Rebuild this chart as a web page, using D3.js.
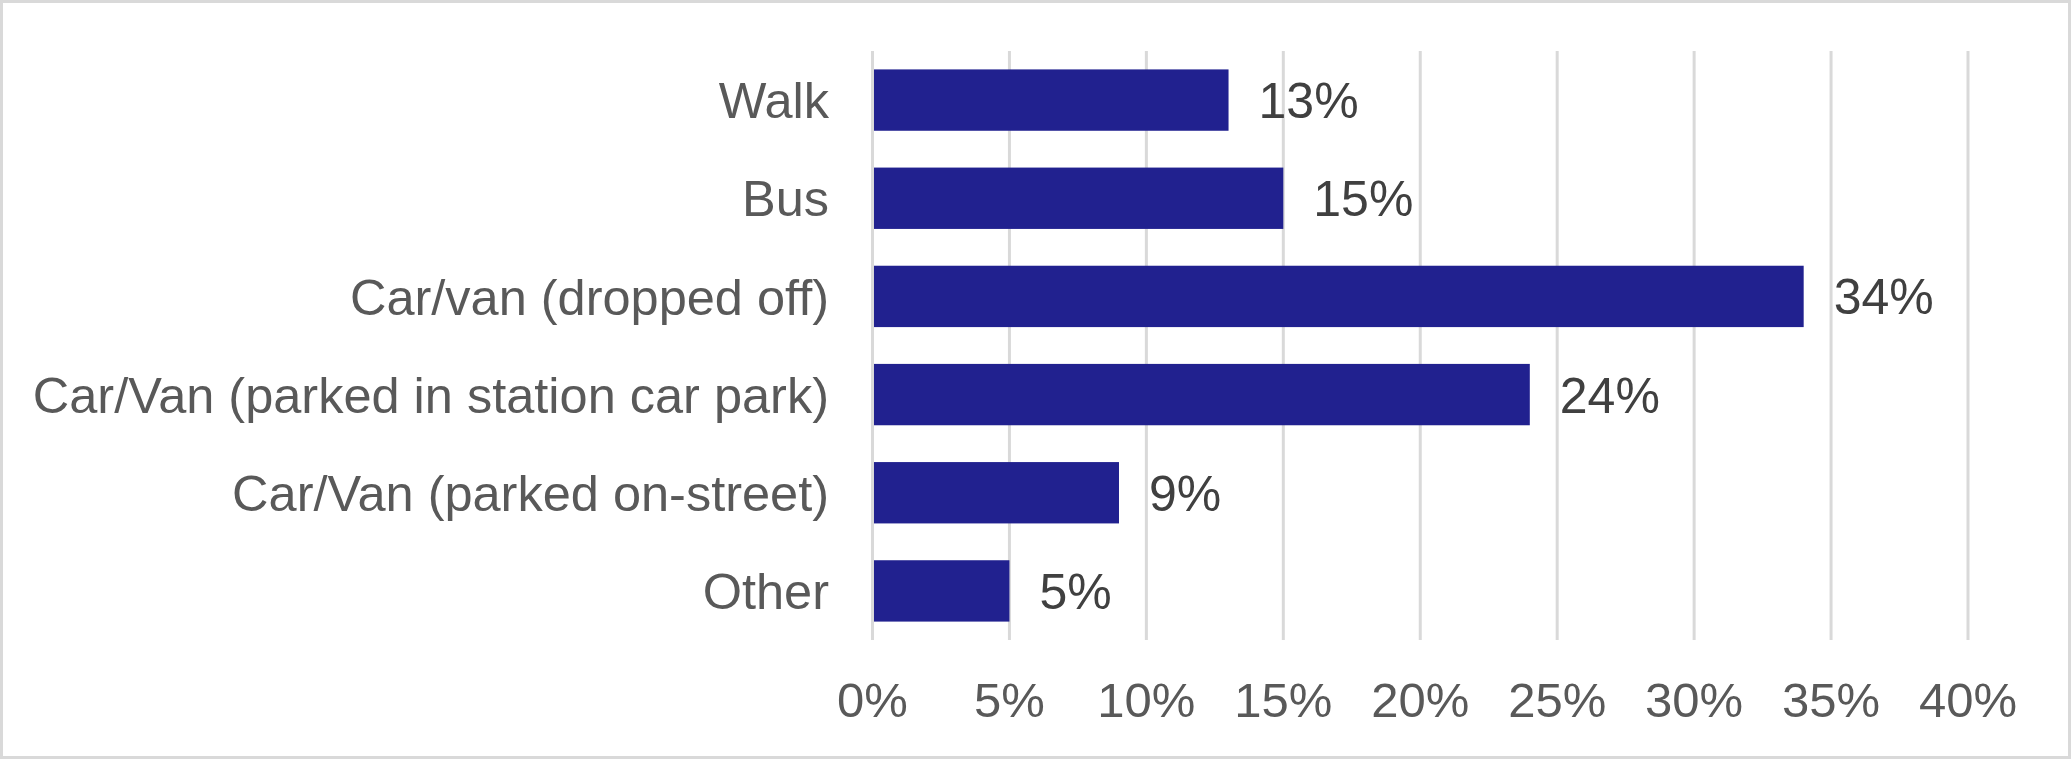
<!DOCTYPE html>
<html>
<head>
<meta charset="utf-8">
<script src="https://cdn.jsdelivr.net/npm/d3@7"></script>
<style>
  html, body { margin: 0; padding: 0; background: #fff; }
  svg { display: block; }
  text { font-family: "Liberation Sans", Arial, sans-serif; }
</style>
</head>
<body>
<svg id="chart" width="2071" height="759"></svg>
<script>
const categories = [
  "Walk",
  "Bus",
  "Car/van (dropped off)",
  "Car/Van (parked in station car park)",
  "Car/Van (parked on-street)",
  "Other"
];
const values = [0.13, 0.15, 0.34, 0.24, 0.09, 0.05];
const tickValues = [0, 0.05, 0.10, 0.15, 0.20, 0.25, 0.30, 0.35, 0.40];

const W = 2071, H = 759;
const svg = d3.select("#chart");

// outer border
svg.append("rect")
  .attr("x", 1.5).attr("y", 1.5)
  .attr("width", W - 3).attr("height", H - 3)
  .attr("fill", "#fff")
  .attr("stroke", "#d9d9d9")
  .attr("stroke-width", 3);

const x = d3.scaleLinear().domain([0, 0.40]).range([872.5, 1968]);
const y = d3.scaleBand().domain(categories).range([51, 640])
  .paddingInner(0.375).paddingOuter(0.1875);

// gridlines
svg.append("g")
  .selectAll("line")
  .data(tickValues)
  .join("line")
  .attr("x1", d => x(d)).attr("x2", d => x(d))
  .attr("y1", 51).attr("y2", 640)
  .attr("stroke", "#d9d9d9")
  .attr("stroke-width", 3);

// x axis tick labels
const fmt = d3.format(".0%");
svg.append("g")
  .selectAll("text")
  .data(tickValues)
  .join("text")
  .attr("x", d => x(d))
  .attr("y", 717)
  .attr("text-anchor", "middle")
  .attr("font-size", 49)
  .attr("fill", "#595959")
  .text(d => fmt(d));

// bars
svg.append("g")
  .selectAll("rect")
  .data(values)
  .join("rect")
  .attr("x", x(0) + 1.5)
  .attr("y", (d, i) => y(categories[i]))
  .attr("width", d => x(d) - x(0) - 1.5)
  .attr("height", y.bandwidth())
  .attr("fill", "#21218f");

// category labels
svg.append("g")
  .selectAll("text")
  .data(categories)
  .join("text")
  .attr("x", 829)
  .attr("y", d => y(d) + y.bandwidth() / 2)
  .attr("dy", "0.36em")
  .attr("text-anchor", "end")
  .attr("font-size", 50.5)
  .attr("fill", "#595959")
  .text(d => d);

// data labels
svg.append("g")
  .selectAll("text")
  .data(values)
  .join("text")
  .attr("x", d => x(d) + 30)
  .attr("y", (d, i) => y(categories[i]) + y.bandwidth() / 2)
  .attr("dy", "0.36em")
  .attr("font-size", 50)
  .attr("fill", "#404040")
  .text(d => fmt(d));
</script>
</body>
</html>
